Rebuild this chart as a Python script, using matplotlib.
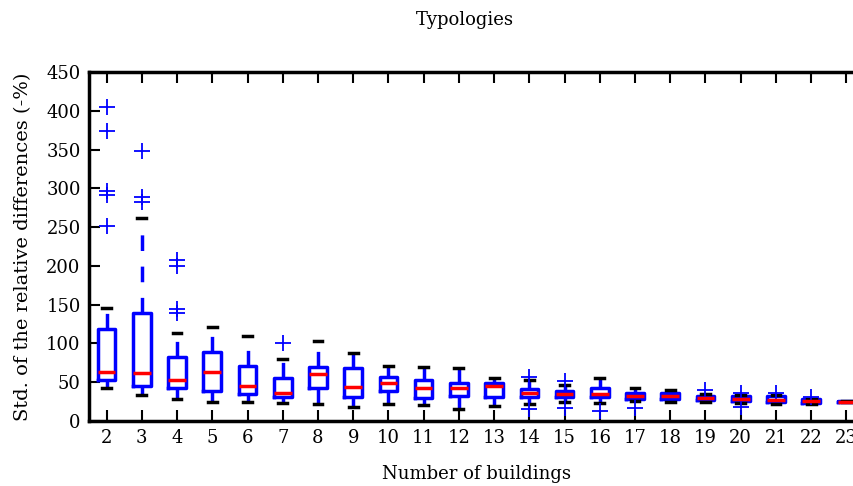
import numpy as np
import matplotlib.pyplot as plt

# Número de edificios (etiquetas del eje x)
buildings = list(range(2, 24))

# Estadísticos (percent)
whislo = [42, 33.5, 29, 24.5, 25, 23.6, 22, 18.5, 22.3, 20.6, 15, 19, 22, 24, 22.8, 26, 25, 25, 23.6, 21.5, 22.5, 24.5]
q1 = [53, 45.5, 43, 39, 35, 31.4, 42, 30.5, 38.3, 30, 32.6, 31.4, 31.4, 31.4, 30.5, 28.8, 28, 27, 25.8, 24.9, 23.6, 24.7]
med = [63, 61.5, 53, 63, 45, 35.7, 60, 44.3, 48.6, 43, 42.2, 45.5, 36.5, 35.2, 34.6, 32.5, 31.8, 30, 28.4, 27, 25.8, 24.9]
q3 = [119, 139, 82, 89, 71, 56, 70, 68, 56.3, 53, 49.4, 49.4, 41.3, 39, 42, 36.5, 35.7, 32.6, 32.6, 32.6, 27.8, 25.2]
whishi = [146, 262, 114, 121, 109, 80, 103, 88, 71, 69.6, 68.3, 55, 52.9, 46.4, 55, 43, 40, 34.4, 33.5, 33.5, 28.5, 25.4]
fliers = [
    [405, 374, 297, 292, 252],
    [348, 289, 282],
    [207, 200, 145, 139],
    [], [], [101], [], [], [], [], [], [],
    [57, 15],
    [52, 16.3],
    [13.5],
    [16.3],
    [],
    [40],
    [36.5, 17.6],
    [35.6],
    [31],
    [],
]

plt.rcParams['font.family'] = ['DejaVu Serif']
plt.rcParams['font.size'] = 13

stats = []
for i in range(len(buildings)):
    stats.append(dict(whislo=whislo[i], q1=q1[i], med=med[i], q3=q3[i],
                      whishi=whishi[i], fliers=fliers[i]))

fig = plt.figure(figsize=(8.54, 4.86), dpi=100)
ax = fig.add_axes([89 / 854, 65 / 486, 775 / 854, 349 / 486])

ax.bxp(stats, positions=range(1, len(buildings) + 1), widths=0.5,
       boxprops=dict(color='blue', linewidth=2.5),
       whiskerprops=dict(color='blue', linewidth=2.5, linestyle=(0, (4.5, 4.5))),
       capprops=dict(color='black', linewidth=2.5),
       medianprops=dict(color='red', linewidth=2.5),
       flierprops=dict(marker='+', markeredgecolor='blue', markersize=12,
                       markeredgewidth=1.3, linestyle='none'))

ax.set_xlim(0.5, len(buildings) + 0.5)
ax.set_ylim(0, 450)
ax.set_yticks(np.arange(0, 451, 50))
ax.set_xticks(range(1, len(buildings) + 1))
ax.set_xticklabels([str(b) for b in buildings])
for s in ax.spines.values():
    s.set_linewidth(2.5)
ax.tick_params(direction='in', length=8, width=1.5, top=True, right=True, pad=6)

ax.set_xlabel('Number of buildings', labelpad=13)
ax.set_ylabel('Std. of the relative differences (-%)', fontsize=14, labelpad=10)
fig.text(465 / 854, 1 - 20 / 486, 'Typologies', ha='center', va='center', fontsize=13)

fig.savefig('out.png', dpi=100)
